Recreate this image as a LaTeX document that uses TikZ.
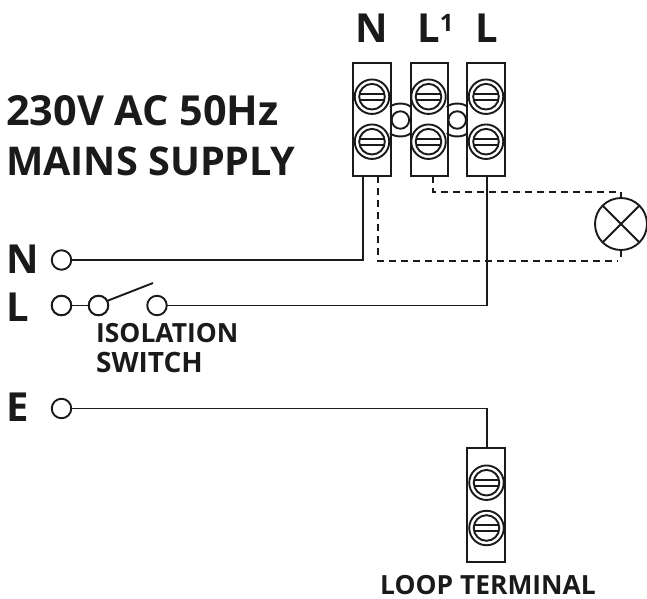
\documentclass[tikz,border=0pt]{standalone}
\usepackage{fontspec}
\setmainfont{Open Sans}
\usetikzlibrary{calc}
\definecolor{ink}{HTML}{1A1A1A}
\tikzset{
  px/.style={x=1pt,y=-1pt},
  wire/.style={line width=1.9pt,color=ink},
  dwire/.style={line width=1.7pt,color=ink,dash pattern=on 6.5pt off 5.5pt},
  term/.style={draw=ink,line width=2pt,minimum width=37.5pt,inner sep=0pt,outer sep=0pt},
  port/.style={circle,draw=ink,line width=1.9pt,minimum size=19.5pt,inner sep=0pt,outer sep=0pt,fill=white},
  mid/.style={text=ink,font=\bfseries\fontsize{40}{42}\selectfont,inner sep=0pt,anchor=base west},
  small/.style={text=ink,font=\bfseries\fontsize{26.4}{30}\selectfont,inner sep=0pt,anchor=base west},
  screwring/.style={circle,draw=ink,line width=1.9pt,minimum size=34.5pt,inner sep=0pt,fill=white},
  hole/.style={circle,draw=ink,line width=1.9pt,minimum size=17.5pt,inner sep=0pt},
}
\newcommand{\screw}[2]{%
  \node[screwring] (s#1) at (#2) {};
  \draw[wire] (s#1) circle[radius=12.8pt];
  \draw[wire] ($(s#1)+(-12.4,-2.9)$) -- ($(s#1)+(12.4,-2.9)$);
  \draw[wire] ($(s#1)+(-12.4,2.9)$) -- ($(s#1)+(12.4,2.9)$);
}
\begin{document}
\begin{tikzpicture}[px]
\useasboundingbox (0,0) rectangle (647,598);
% terminals
\node[term,minimum height=113.5pt] (t1) at (372,119.5) {};
\node[term,minimum height=113.5pt] (t2) at (429.3,119.5) {};
\node[term,minimum height=113.5pt] (t3) at (486,119.5) {};
\node[term,minimum height=114pt] (t4) at (486,505) {};
% bridges
\coordinate (b1) at (400.4,120);
\coordinate (b2) at (457.2,120);
\foreach \c in {b1,b2}{
  \draw[wire] ($(\c)+(-10.4,-13)$) .. controls ($(\c)+(-6,-17.6)$) and ($(\c)+(6,-17.6)$) .. ($(\c)+(10.4,-13)$);
  \draw[wire] ($(\c)+(-10.4,13)$) .. controls ($(\c)+(-6,17.6)$) and ($(\c)+(6,17.6)$) .. ($(\c)+(10.4,13)$);
}
\node[hole] (h1) at (b1) {};
\node[hole] (h2) at (b2) {};
% screws
\screw{a}{372,96.7}
\screw{b}{372,141.7}
\screw{c}{428.5,96.7}
\screw{d}{428.5,141.7}
\screw{e}{486,96.7}
\screw{f}{486,141.7}
\screw{g}{486.5,482.7}
\screw{h}{486.5,528}
% ports
\node[port] (pN) at (61.5,260) {};
\node[port] (pL) at (61.5,305.5) {};
\node[port] (pS) at (98.5,305.5) {};
\node[port] (pT) at (157,305.5) {};
\node[port] (pE) at (61.5,408.5) {};
% lamp
\node[circle,draw=ink,line width=1.9pt,minimum size=52pt,inner sep=0pt,outer sep=0pt] (lamp) at (621,224) {};
\draw[wire] (lamp.45) -- (lamp.225);
\draw[wire] (lamp.135) -- (lamp.315);
% solid wires
\coordinate (nx) at (362.7,260);
\coordinate (lx) at (486.7,305.5);
\coordinate (ex) at (487.3,408.5);
\draw[wire] (pN.east) -- (nx) -- (362.7,176);
\draw[wire] (pL) -- (pS);
\draw[wire] (pT.east) -- (lx) -- (486.7,176);
\draw[wire] (pE.east) -- (ex) -- (487.3,448);
\node[port] at (pL) {};
\node[port] at (pS) {};
% switch lever
\coordinate (lev) at (153,283);
\draw[wire] (pS.28) -- (lev);
% dashed wires
\coordinate (d1) at (378.3,261);
\coordinate (d2) at (433,192);
\draw[dwire] (378.3,176) -- (d1) -- (618,261);
\draw[dwire] (433,176) -- (d2) -- (619,192);
\draw[wire] (621,191.5) -- (lamp.north);
\draw[wire] (lamp.south) -- (621,257);
% labels
\node[mid,font=\bfseries\fontsize{41.4}{42}\selectfont] (title1) at (6,125) {230V AC 50Hz};
\node[mid,font=\bfseries\fontsize{39.6}{42}\selectfont] (title2) at (6,175) {MAINS SUPPLY};
\node[mid] (hN) at (355.5,42) {N};
\node[mid] (hL1) at (417,42) {L\raisebox{11pt}{\fontsize{24}{24}\selectfont 1}};
\node[mid] (hL) at (475,42) {L};
\node[mid] (lN) at (6,273) {N};
\node[mid] (lL) at (6,321.5) {L};
\node[mid] (lE) at (6,421.5) {E};
\node[small] (iso1) at (96,342) {ISOLATION};
\node[small,font=\bfseries\fontsize{28}{30}\selectfont] (iso2) at (96,372) {SWITCH};
\node[small] (loop) at (380,594) {LOOP TERMINAL};
\end{tikzpicture}
\end{document}
